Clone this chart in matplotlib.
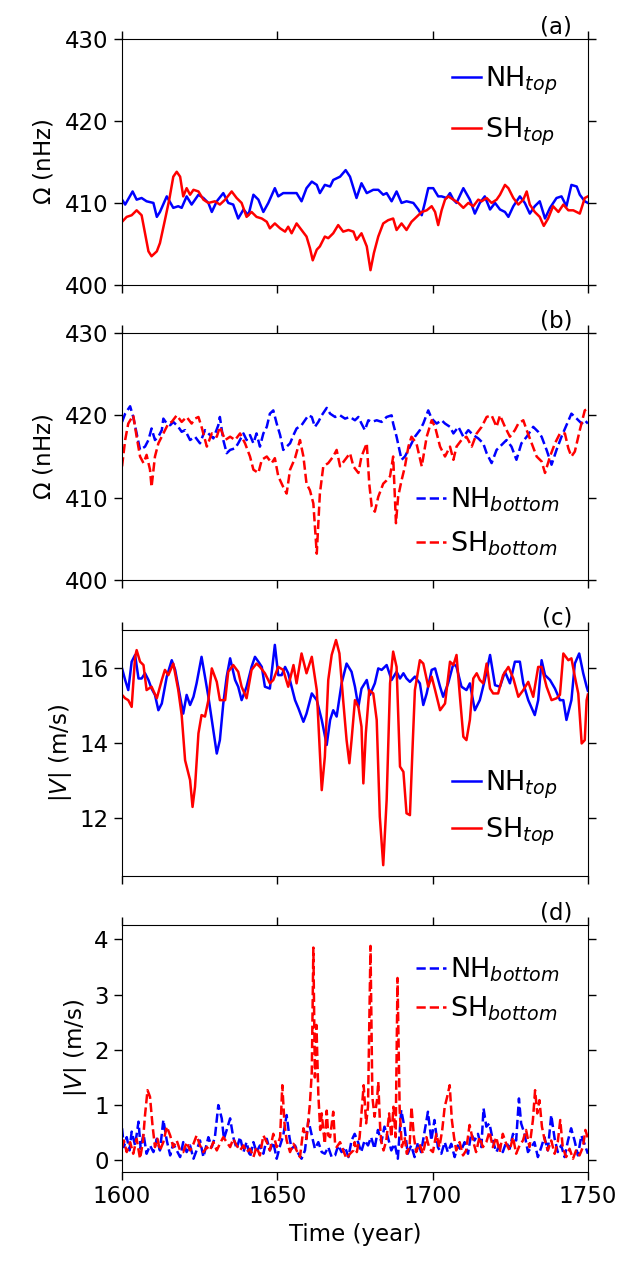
import numpy as np
import matplotlib
matplotlib.use('Agg')
import matplotlib.pyplot as plt

# (a) rotation rate at the top
a_nh_year = [1600.0, 1601.0, 1603.4, 1604.7, 1606.3, 1607.9, 1610.1, 1611.2, 1612.2, 1614.4,
             1616.5, 1618.1, 1619.2, 1620.8, 1622.4, 1624.6, 1626.2, 1627.8, 1628.9, 1630.5,
             1632.6, 1634.2, 1635.8, 1637.4, 1639.1, 1640.7, 1642.3, 1643.9, 1645.5, 1647.1,
             1649.2, 1650.3, 1651.9, 1654.1, 1656.2, 1657.8, 1659.4, 1661.1, 1662.7, 1663.7,
             1665.3, 1667.0, 1668.0, 1670.2, 1672.0, 1673.4, 1675.5, 1677.1, 1678.8, 1680.9,
             1682.5, 1684.1, 1685.2, 1686.8, 1688.4, 1690.0, 1691.6, 1693.8, 1695.4, 1696.5,
             1697.5, 1698.6, 1700.2, 1701.8, 1702.9, 1704.5, 1705.6, 1706.7, 1707.7, 1709.9,
             1712.0, 1713.6, 1715.2, 1716.8, 1718.5, 1720.1, 1721.7, 1723.3, 1724.4, 1726.0,
             1728.1, 1729.7, 1731.3, 1732.9, 1734.5, 1736.2, 1737.8, 1739.9, 1741.5, 1743.1,
             1744.7, 1746.4, 1747.4, 1749.0, 1750.0]
a_nh = [410.4, 409.8, 411.4, 410.4, 410.6, 410.2, 410.0, 408.3, 408.9, 410.8,
        409.4, 409.6, 409.4, 410.8, 409.8, 411.0, 410.6, 410.0, 408.9, 410.2,
        411.2, 410.0, 409.8, 408.1, 409.2, 408.5, 411.0, 410.4, 408.9, 410.0,
        411.8, 410.8, 411.2, 411.2, 411.2, 410.2, 411.8, 412.6, 412.2, 411.2,
        412.2, 412.0, 412.8, 413.2, 414.0, 413.2, 410.6, 412.4, 411.2, 411.6,
        411.6, 411.0, 411.2, 410.2, 411.4, 410.0, 410.2, 410.0, 409.2, 408.5,
        410.0, 411.8, 411.8, 410.8, 410.8, 410.6, 411.2, 410.4, 410.0, 411.8,
        410.4, 408.7, 410.0, 410.8, 409.2, 410.0, 409.2, 408.9, 408.3, 409.6,
        410.8, 410.0, 408.7, 409.6, 410.2, 408.1, 409.4, 410.6, 410.8, 409.6,
        412.2, 412.0, 411.0, 410.2, 410.0]

a_sh_year = [1600.0, 1601.5, 1603.1, 1604.7, 1606.3, 1607.4, 1608.5, 1609.5, 1611.2, 1612.2,
             1613.8, 1615.2, 1616.5, 1617.6, 1618.7, 1619.7, 1620.8, 1621.9, 1623.0, 1624.6,
             1626.2, 1627.8, 1629.9, 1631.5, 1633.2, 1635.3, 1636.9, 1638.5, 1640.1, 1641.7,
             1643.3, 1645.0, 1646.6, 1647.6, 1649.2, 1650.9, 1652.5, 1653.5, 1654.6, 1656.2,
             1657.8, 1659.4, 1660.5, 1661.4, 1662.7, 1663.7, 1665.3, 1666.4, 1668.0, 1669.6,
             1671.2, 1672.9, 1674.5, 1675.5, 1677.1, 1678.8, 1680.0, 1681.1, 1682.5, 1684.1,
             1685.7, 1687.3, 1688.4, 1690.0, 1691.6, 1693.2, 1695.4, 1696.5, 1698.1, 1699.7,
             1700.8, 1701.8, 1702.9, 1704.0, 1705.0, 1706.7, 1708.3, 1709.9, 1711.5, 1713.1,
             1714.7, 1715.8, 1717.4, 1719.0, 1720.6, 1721.7, 1723.3, 1724.4, 1726.0, 1727.6,
             1729.2, 1730.3, 1731.3, 1732.9, 1734.5, 1735.8, 1737.2, 1738.8, 1740.5, 1742.1,
             1743.7, 1745.3, 1747.4, 1749.0, 1750.0]
a_sh = [407.7, 408.3, 408.5, 409.1, 408.5, 406.3, 404.1, 403.5, 404.1, 405.1,
        407.9, 410.4, 413.2, 413.8, 413.2, 410.8, 411.8, 411.0, 411.6, 411.4,
        410.4, 410.0, 410.2, 409.8, 410.4, 411.4, 410.6, 410.0, 408.3, 408.9,
        408.3, 408.1, 407.7, 406.9, 407.5, 406.9, 406.5, 407.1, 406.3, 407.5,
        406.7, 405.9, 404.5, 403.0, 404.3, 404.7, 405.9, 405.7, 406.3, 407.3,
        406.5, 406.7, 406.5, 405.5, 406.3, 404.7, 401.8, 403.9, 405.9, 407.5,
        407.9, 408.1, 406.7, 407.5, 406.7, 407.7, 408.5, 408.9, 409.1, 409.6,
        408.9, 407.3, 409.1, 410.4, 410.8, 410.4, 410.0, 409.4, 410.0, 409.6,
        410.4, 410.2, 410.6, 410.0, 410.4, 411.0, 412.2, 411.8, 410.6, 409.8,
        410.4, 411.4, 409.8, 408.9, 408.3, 407.2, 408.1, 409.6, 408.9, 409.8,
        409.1, 409.1, 408.7, 410.6, 410.8]

# (b) rotation rate at the bottom
b_nh_year = [1600.0, 1601.0, 1602.6, 1603.6, 1604.7, 1605.8, 1607.4, 1608.5, 1609.5, 1610.6,
             1611.7, 1612.8, 1613.3, 1614.4, 1615.5, 1616.5, 1618.1, 1619.2, 1620.3, 1621.9,
             1623.5, 1625.1, 1626.7, 1627.8, 1629.4, 1631.0, 1631.5, 1632.6, 1633.7, 1634.8,
             1636.4, 1637.4, 1639.1, 1640.1, 1641.2, 1642.3, 1643.3, 1644.4, 1645.5, 1646.6,
             1647.6, 1648.7, 1649.8, 1650.9, 1651.9, 1653.0, 1654.1, 1655.2, 1656.2, 1657.8,
             1658.9, 1660.0, 1661.1, 1662.1, 1663.2, 1664.3, 1665.9, 1667.0, 1668.6, 1670.2,
             1671.8, 1673.4, 1675.0, 1676.1, 1677.1, 1678.2, 1679.3, 1680.4, 1682.0, 1683.6,
             1685.2, 1686.8, 1687.3, 1688.4, 1690.0, 1691.1, 1692.7, 1694.3, 1695.9, 1697.0,
             1698.6, 1699.7, 1701.3, 1702.9, 1704.0, 1705.6, 1706.7, 1708.3, 1709.9, 1711.5,
             1713.1, 1714.7, 1716.3, 1717.4, 1719.0, 1720.6, 1722.2, 1723.8, 1725.4, 1727.0,
             1728.6, 1730.3, 1732.4, 1734.0, 1735.1, 1736.7, 1738.3, 1739.9, 1741.5, 1743.1,
             1744.7, 1746.4, 1748.0, 1749.0, 1750.0]
b_nh = [419.2, 420.2, 421.1, 419.8, 417.8, 415.8, 416.2, 417.0, 418.4, 417.0,
        417.4, 418.2, 419.6, 419.0, 418.8, 419.2, 418.6, 418.0, 418.2, 417.0,
        417.4, 416.6, 418.2, 417.8, 417.2, 418.8, 419.8, 417.0, 415.4, 415.8,
        416.0, 416.6, 417.8, 417.0, 417.6, 416.6, 417.8, 416.2, 417.8, 418.6,
        420.2, 420.6, 419.0, 417.6, 415.8, 416.2, 416.6, 417.6, 418.4, 418.8,
        419.4, 420.0, 419.8, 418.6, 419.2, 420.0, 420.9, 420.2, 419.8, 420.0,
        419.6, 419.8, 419.4, 419.8, 419.0, 418.2, 419.4, 419.2, 419.4, 419.2,
        419.8, 420.0, 419.0, 417.4, 414.6, 415.0, 416.2, 417.4, 418.2, 419.0,
        420.6, 419.6, 419.0, 419.4, 419.0, 418.6, 417.8, 418.6, 417.4, 418.2,
        417.6, 417.2, 416.6, 415.4, 414.2, 415.8, 416.4, 417.0, 416.2, 414.6,
        416.6, 417.4, 418.6, 418.0, 417.4, 415.8, 414.0, 415.8, 417.4, 418.8,
        420.2, 419.6, 419.0, 419.4, 419.0]

b_sh_year = [1600.0, 1601.0, 1602.0, 1603.6, 1604.7, 1605.8, 1606.9, 1607.9, 1609.0, 1609.5,
             1610.6, 1611.7, 1613.3, 1614.9, 1616.0, 1617.6, 1619.2, 1620.8, 1622.4, 1623.5,
             1624.6, 1625.6, 1627.3, 1628.9, 1630.5, 1631.5, 1633.2, 1634.8, 1636.4, 1638.0,
             1639.6, 1641.2, 1642.3, 1643.9, 1645.0, 1646.6, 1648.2, 1649.2, 1650.3, 1651.9,
             1653.0, 1654.1, 1655.7, 1657.3, 1658.4, 1659.4, 1660.5, 1661.6, 1662.7, 1663.7,
             1664.8, 1666.4, 1668.0, 1669.1, 1670.2, 1671.8, 1673.4, 1674.5, 1676.1, 1677.1,
             1678.8, 1679.6, 1680.4, 1681.4, 1682.5, 1684.1, 1685.2, 1686.3, 1687.3, 1688.2,
             1688.9, 1690.0, 1691.1, 1692.2, 1693.2, 1694.8, 1696.5, 1698.1, 1699.7, 1700.8,
             1702.4, 1704.0, 1705.6, 1706.7, 1707.7, 1709.3, 1710.9, 1712.6, 1714.2, 1715.8,
             1717.4, 1719.0, 1720.6, 1721.7, 1723.3, 1724.9, 1726.5, 1727.6, 1729.2, 1730.3,
             1731.9, 1733.5, 1735.1, 1736.2, 1737.8, 1739.4, 1741.0, 1742.6, 1743.7, 1744.7,
             1745.8, 1747.4, 1749.0, 1750.0]
b_sh = [413.8, 417.0, 419.0, 420.0, 417.4, 415.0, 414.2, 415.2, 413.4, 411.3,
        415.0, 416.6, 417.8, 419.0, 419.2, 420.0, 419.2, 419.8, 419.0, 419.6,
        419.8, 418.6, 416.2, 417.8, 417.4, 418.6, 417.0, 417.4, 417.0, 417.8,
        416.6, 415.0, 413.4, 413.0, 414.6, 415.0, 414.2, 414.8, 412.6, 411.3,
        410.5, 413.4, 414.8, 417.0, 415.0, 411.7, 410.9, 409.3, 403.2, 410.5,
        413.8, 414.2, 415.0, 415.8, 413.8, 414.6, 415.4, 413.8, 413.0, 415.0,
        416.6, 411.7, 408.9, 408.3, 410.1, 411.7, 412.1, 412.6, 415.0, 406.9,
        410.1, 412.1, 413.8, 416.2, 417.4, 416.6, 413.8, 417.4, 419.4, 418.6,
        416.2, 415.0, 416.2, 414.6, 416.2, 417.0, 417.4, 416.2, 417.8, 418.6,
        419.8, 420.0, 418.6, 420.0, 418.6, 417.4, 418.2, 419.0, 419.4, 418.2,
        416.6, 415.0, 414.4, 413.0, 415.0, 416.6, 417.8, 417.8, 416.0, 415.0,
        415.6, 418.2, 420.6, 420.8]

# (c) speed at the top
c_nh_year = [1600.0, 1601.0, 1602.0, 1603.1, 1604.2, 1605.3, 1606.3, 1607.4, 1608.5, 1609.5,
             1610.6, 1611.7, 1612.8, 1614.4, 1616.0, 1617.1, 1618.1, 1619.7, 1620.8, 1621.9,
             1623.0, 1624.0, 1625.6, 1626.7, 1627.8, 1628.9, 1630.5, 1631.5, 1632.6, 1633.7,
             1634.8, 1636.4, 1637.4, 1638.5, 1640.1, 1641.7, 1642.8, 1643.9, 1645.0, 1646.0,
             1647.6, 1649.2, 1650.3, 1651.4, 1652.5, 1653.5, 1654.6, 1655.7, 1656.8, 1658.4,
             1659.4, 1661.1, 1662.7, 1664.3, 1665.9, 1667.0, 1668.0, 1669.1, 1670.7, 1672.3,
             1673.9, 1675.0, 1676.1, 1677.1, 1678.8, 1679.8, 1681.4, 1682.5, 1683.6, 1685.2,
             1686.8, 1688.4, 1689.5, 1690.6, 1691.6, 1692.7, 1694.3, 1695.9, 1697.0, 1698.1,
             1699.7, 1700.8, 1702.4, 1703.4, 1705.0, 1706.7, 1707.7, 1709.3, 1710.9, 1712.0,
             1713.6, 1715.2, 1716.8, 1718.5, 1720.1, 1721.7, 1723.3, 1724.9, 1726.5, 1728.1,
             1729.2, 1730.8, 1732.9, 1734.0, 1735.1, 1736.2, 1737.8, 1739.4, 1741.0, 1742.1,
             1743.1, 1744.7, 1745.8, 1747.2, 1748.5, 1749.6, 1750.0]
c_nh = [16.00, 15.69, 15.42, 16.18, 16.36, 15.73, 15.73, 15.87, 15.69, 15.46,
        15.29, 14.88, 15.06, 15.78, 16.22, 15.96, 15.51, 14.79, 15.29, 15.02,
        15.24, 15.60, 16.31, 15.78, 15.24, 14.62, 13.72, 14.08, 15.06, 15.78,
        16.27, 15.69, 15.51, 15.15, 15.51, 16.04, 16.31, 16.18, 16.04, 15.51,
        15.46, 16.63, 15.82, 15.82, 16.04, 15.87, 15.51, 15.15, 14.93, 14.57,
        14.79, 15.33, 15.15, 14.62, 13.95, 14.62, 14.88, 14.71, 15.60, 16.13,
        15.91, 15.51, 14.97, 15.46, 15.69, 15.29, 15.60, 16.00, 15.96, 16.09,
        15.69, 15.91, 15.73, 15.87, 15.73, 15.64, 15.78, 15.60, 15.02, 15.33,
        15.96, 16.00, 15.51, 15.24, 15.60, 16.13, 16.04, 15.51, 15.42, 15.60,
        14.88, 15.15, 15.69, 16.36, 15.55, 15.51, 15.91, 15.60, 16.18, 16.18,
        15.60, 15.15, 14.75, 15.15, 16.22, 15.82, 15.69, 15.46, 15.15, 15.15,
        14.62, 15.15, 16.13, 16.40, 15.87, 15.51, 15.40]

c_sh_year = [1600.0, 1601.0, 1602.0, 1603.1, 1604.2, 1604.7, 1605.8, 1606.9, 1607.9, 1609.5,
             1611.2, 1612.8, 1613.8, 1614.9, 1616.5, 1618.1, 1619.2, 1620.3, 1621.9, 1622.7,
             1623.5, 1624.6, 1625.6, 1626.7, 1627.8, 1628.9, 1630.5, 1631.5, 1633.2, 1634.2,
             1635.8, 1637.4, 1638.5, 1640.1, 1641.7, 1643.3, 1644.4, 1646.0, 1647.6, 1648.7,
             1650.3, 1651.9, 1653.5, 1655.2, 1656.2, 1657.8, 1659.4, 1661.1, 1662.7, 1663.5,
             1664.3, 1665.3, 1666.4, 1667.5, 1668.9, 1670.0, 1671.2, 1672.3, 1673.2, 1673.9,
             1675.0, 1676.1, 1677.1, 1677.7, 1678.5, 1679.6, 1680.9, 1682.0, 1683.0, 1684.1,
             1685.2, 1686.3, 1687.3, 1688.4, 1689.5, 1690.6, 1691.6, 1692.7, 1693.6, 1694.3,
             1695.9, 1697.0, 1698.6, 1699.7, 1700.8, 1702.4, 1704.0, 1705.6, 1706.7, 1707.7,
             1708.8, 1709.9, 1710.9, 1712.0, 1713.1, 1714.2, 1715.2, 1716.3, 1717.4, 1718.5,
             1719.5, 1721.1, 1722.7, 1724.4, 1726.0, 1727.6, 1729.2, 1730.8, 1732.4, 1734.0,
             1735.1, 1736.7, 1738.3, 1739.9, 1741.0, 1742.1, 1743.7, 1744.7, 1745.8, 1746.9,
             1748.0, 1749.0, 1749.6, 1750.0]
c_sh = [15.29, 15.20, 15.15, 14.97, 16.31, 16.49, 16.18, 16.09, 15.42, 15.51,
        15.20, 15.69, 15.96, 15.82, 16.13, 15.42, 14.75, 13.54, 13.01, 12.29,
        12.83, 14.26, 14.75, 14.71, 15.15, 16.00, 15.64, 15.15, 15.15, 15.91,
        16.09, 15.91, 15.51, 15.20, 15.96, 16.13, 16.04, 15.87, 15.60, 15.69,
        16.04, 15.96, 15.51, 16.09, 15.60, 16.40, 15.87, 16.31, 15.42, 14.08,
        12.74, 13.63, 15.69, 16.36, 16.76, 16.40, 15.15, 14.08, 13.46, 14.08,
        15.15, 14.97, 14.44, 12.92, 14.26, 15.42, 15.33, 14.62, 12.03, 10.73,
        12.47, 15.60, 16.45, 16.04, 13.37, 13.23, 12.12, 12.07, 13.99, 15.42,
        16.22, 16.13, 15.51, 15.78, 15.42, 14.88, 15.06, 16.18, 16.09, 16.36,
        15.24, 14.17, 14.08, 14.62, 15.73, 15.87, 15.69, 15.60, 16.13, 15.46,
        15.33, 15.33, 15.82, 16.04, 15.73, 15.24, 15.42, 15.64, 15.24, 16.04,
        16.04, 15.51, 15.15, 15.20, 15.29, 16.40, 16.22, 16.27, 15.78, 15.33,
        13.99, 14.08, 15.15, 15.30]

# (d) speed at the bottom
d_nh_year = [1600.0, 1600.6, 1601.5, 1602.4, 1603.1, 1604.2, 1605.3, 1606.0, 1606.9, 1607.9,
             1609.0, 1610.1, 1611.2, 1612.2, 1613.3, 1614.4, 1615.5, 1616.5, 1617.6, 1618.7,
             1619.7, 1620.8, 1621.9, 1623.0, 1624.0, 1625.1, 1626.2, 1627.8, 1628.9, 1629.9,
             1631.0, 1632.1, 1632.8, 1633.7, 1634.8, 1635.8, 1636.9, 1638.0, 1639.1, 1640.1,
             1641.2, 1642.3, 1643.3, 1644.4, 1645.5, 1646.6, 1647.6, 1648.7, 1649.8, 1650.9,
             1651.9, 1653.0, 1653.9, 1654.6, 1655.7, 1656.8, 1657.8, 1658.9, 1660.0, 1661.1,
             1662.1, 1663.2, 1664.3, 1665.3, 1666.4, 1667.5, 1668.6, 1669.6, 1670.7, 1671.8,
             1672.9, 1673.9, 1674.9, 1676.0, 1677.0, 1678.1, 1679.2, 1680.2, 1681.3, 1682.4,
             1683.5, 1684.5, 1685.6, 1686.7, 1687.8, 1688.8, 1689.9, 1691.0, 1692.0, 1693.1,
             1694.2, 1695.3, 1696.3, 1697.4, 1698.5, 1699.6, 1700.6, 1701.7, 1702.8, 1703.9,
             1704.9, 1706.0, 1707.1, 1708.1, 1709.2, 1710.3, 1711.4, 1712.4, 1713.5, 1714.6,
             1715.7, 1716.4, 1717.3, 1718.3, 1719.4, 1720.5, 1721.6, 1722.6, 1723.7, 1724.8,
             1725.9, 1726.9, 1727.8, 1728.5, 1729.6, 1730.7, 1731.8, 1732.8, 1733.9, 1735.0,
             1736.0, 1737.1, 1738.2, 1739.3, 1740.3, 1741.4, 1742.5, 1743.6, 1744.6, 1745.7,
             1746.8, 1747.9, 1748.9, 1750.0]
d_nh = [0.58, 0.24, 0.42, 0.18, 0.52, 0.27, 0.70, 0.21, 0.48, 0.12,
        0.27, 0.15, 0.39, 0.18, 0.73, 0.36, 0.09, 0.30, 0.18, 0.06,
        0.33, 0.15, 0.27, 0.03, 0.18, 0.36, 0.06, 0.42, 0.24, 0.42,
        1.00, 0.76, 0.39, 0.55, 0.76, 0.42, 0.21, 0.42, 0.15, 0.33,
        0.06, 0.33, 0.15, 0.27, 0.12, 0.39, 0.18, 0.33, 0.03, 0.27,
        0.45, 0.82, 0.42, 0.21, 0.27, 0.12, 0.03, 0.18, 0.73, 0.45,
        0.21, 0.33, 0.15, 0.12, 0.24, 0.06, 0.09, 0.27, 0.15, 0.24,
        0.06, 0.36, 0.48, 0.33, 0.15, 0.36, 0.27, 0.42, 0.21, 0.55,
        0.33, 0.61, 0.42, 0.18, 0.30, 0.03, 0.91, 0.58, 0.12, 0.27,
        0.06, 0.33, 0.15, 0.52, 0.88, 0.36, 0.73, 0.24, 0.12, 0.33,
        0.15, 0.30, 0.06, 0.27, 0.18, 0.33, 0.12, 0.48, 0.36, 0.48,
        0.24, 0.94, 0.61, 0.67, 0.36, 0.15, 0.27, 0.15, 0.33, 0.21,
        0.48, 0.36, 1.12, 0.67, 0.48, 0.15, 0.24, 0.33, 0.06, 0.24,
        0.42, 0.18, 0.82, 0.39, 0.15, 0.27, 0.06, 0.36, 0.58, 0.36,
        0.09, 0.45, 0.30, 0.12]

d_sh_year = [1600.0, 1600.6, 1601.5, 1602.6, 1603.6, 1604.7, 1605.8, 1606.7, 1607.4, 1608.2,
             1609.0, 1609.8, 1610.6, 1611.4, 1612.2, 1613.3, 1614.4, 1615.5, 1616.5, 1617.6,
             1618.7, 1619.7, 1620.8, 1621.9, 1623.0, 1624.0, 1625.1, 1626.2, 1627.3, 1628.3,
             1629.4, 1630.5, 1631.5, 1632.6, 1633.7, 1634.8, 1635.8, 1636.9, 1638.0, 1639.1,
             1640.1, 1641.2, 1642.3, 1643.3, 1644.4, 1645.5, 1646.6, 1647.6, 1648.7, 1649.8,
             1650.9, 1651.6, 1652.3, 1653.0, 1654.1, 1655.2, 1656.2, 1657.3, 1658.4, 1659.4,
             1660.5, 1661.1, 1661.6, 1662.1, 1662.6, 1663.2, 1663.8, 1664.3, 1664.8, 1665.3,
             1665.9, 1666.4, 1667.0, 1668.0, 1668.6, 1669.1, 1670.2, 1671.2, 1672.3, 1673.4,
             1674.5, 1674.9, 1675.6, 1676.5, 1677.0, 1677.8, 1678.6, 1679.2, 1680.0, 1680.6,
             1681.3, 1682.1, 1682.5, 1683.1, 1683.5, 1684.2, 1685.1, 1686.0, 1686.7, 1687.4,
             1688.1, 1688.7, 1689.4, 1690.1, 1691.0, 1691.7, 1692.6, 1693.2, 1694.0, 1694.7,
             1695.8, 1696.9, 1698.0, 1699.0, 1700.1, 1701.2, 1702.2, 1703.1, 1703.9, 1704.7,
             1705.5, 1706.2, 1706.9, 1707.6, 1708.7, 1709.8, 1710.8, 1711.9, 1713.0, 1714.0,
             1715.1, 1716.2, 1717.3, 1718.3, 1719.4, 1720.5, 1721.6, 1722.6, 1723.7, 1724.8,
             1725.9, 1726.9, 1728.0, 1729.1, 1730.1, 1731.2, 1732.3, 1733.0, 1733.7, 1734.4,
             1735.2, 1736.0, 1737.1, 1738.2, 1739.3, 1740.3, 1741.1, 1741.9, 1743.0, 1744.1,
             1745.2, 1746.2, 1747.3, 1748.4, 1749.2, 1750.0]
d_sh = [0.24, 0.36, 0.15, 0.33, 0.12, 0.39, 0.03, 0.33, 0.82, 1.27,
        1.15, 0.64, 0.24, 0.39, 0.18, 0.33, 0.61, 0.45, 0.24, 0.36,
        0.18, 0.15, 0.33, 0.18, 0.30, 0.45, 0.27, 0.15, 0.24, 0.18,
        0.33, 0.18, 0.30, 0.42, 0.33, 0.24, 0.39, 0.27, 0.18, 0.27,
        0.15, 0.21, 0.06, 0.24, 0.09, 0.45, 0.33, 0.18, 0.48, 0.24,
        0.42, 1.36, 0.67, 0.36, 0.15, 0.30, 0.18, 0.06, 0.58, 0.39,
        1.03, 1.60, 3.85, 1.50, 2.45, 1.20, 0.55, 0.85, 0.55, 0.30,
        0.90, 0.45, 0.42, 0.88, 0.30, 0.24, 0.33, 0.18, 0.03, 0.12,
        0.18, 0.33, 0.15, 0.42, 0.79, 1.36, 0.67, 0.97, 3.88, 1.15,
        0.79, 1.09, 1.42, 0.61, 0.33, 0.18, 0.36, 0.85, 0.42, 0.97,
        0.42, 3.30, 0.91, 0.24, 0.42, 0.12, 0.27, 0.97, 0.42, 0.15,
        0.30, 0.12, 0.42, 0.21, 0.15, 0.48, 0.24, 0.55, 0.97, 1.15,
        1.36, 0.73, 0.42, 0.18, 0.33, 0.09, 0.18, 0.64, 0.36, 0.15,
        0.42, 0.24, 0.33, 0.52, 0.24, 0.42, 0.15, 0.48, 0.30, 0.18,
        0.42, 0.12, 0.27, 0.36, 0.55, 0.24, 0.73, 1.27, 0.85, 1.09,
        0.61, 0.39, 0.18, 0.36, 0.12, 0.33, 0.73, 0.24, 0.06, 0.21,
        0.03, 0.18, 0.09, 0.24, 0.55, 0.40]

x_ticks = [1600, 1650, 1700, 1750]

plt.rcParams['font.family'] = 'DejaVu Sans'
plt.rcParams['mathtext.fontset'] = 'dejavusans'

fig = plt.figure(figsize=(6.39, 12.67), dpi=100)

left, width = 0.191, 0.729
ax_a = fig.add_axes([left, 0.7751, width, 0.1942])
ax_b = fig.add_axes([left, 0.5422, width, 0.1950])
ax_c = fig.add_axes([left, 0.3086, width, 0.1942])
ax_d = fig.add_axes([left, 0.0750, width, 0.1950])

lw = 1.8
ax_a.plot(a_nh_year, a_nh, c='b', lw=lw, label=r'NH$_{top}$')
ax_a.plot(a_sh_year, a_sh, c='r', lw=lw, label=r'SH$_{top}$')
ax_b.plot(b_nh_year, b_nh, c='b', lw=lw, ls='--', label=r'NH$_{bottom}$')
ax_b.plot(b_sh_year, b_sh, c='r', lw=lw, ls='--', label=r'SH$_{bottom}$')
ax_c.plot(c_nh_year, c_nh, c='b', lw=lw, label=r'NH$_{top}$')
ax_c.plot(c_sh_year, c_sh, c='r', lw=lw, label=r'SH$_{top}$')
ax_d.plot(d_nh_year, d_nh, c='b', lw=lw, ls='--', label=r'NH$_{bottom}$')
ax_d.plot(d_sh_year, d_sh, c='r', lw=lw, ls='--', label=r'SH$_{bottom}$')

fs = 16.5

# y ranges and ticks
for ax in (ax_a, ax_b):
    ax.set_ylim(400, 430)
    ax.set_yticks([400, 410, 420, 430])
    ax.set_ylabel(r'$\Omega$ (nHz)', fontsize=fs, labelpad=7)
ax_c.set_ylim(10.44, 17.03)
ax_c.set_yticks([12, 14, 16])
ax_d.set_ylim(-0.21, 4.26)
ax_d.set_yticks([0, 1, 2, 3, 4])
for ax in (ax_c, ax_d):
    ax.set_ylabel(r'$|V|$ (m/s)', fontsize=fs)

for ax, lab in zip((ax_a, ax_b, ax_c, ax_d), ('(a)', '(b)', '(c)', '(d)')):
    ax.set_xlim(1600, 1750)
    ax.set_xticks(x_ticks)
    ax.tick_params(axis='both', which='major', labelsize=fs, length=6, width=1,
                   top=True, right=True)
    ax.text(0.966, 1.0, lab, transform=ax.transAxes, ha='right', va='bottom', fontsize=16.5)
    if ax is not ax_d:
        ax.set_xticklabels([])

ax_d.set_xlabel('Time (year)', fontsize=fs, labelpad=11)

# Legends, no frame, short handles
leg_kw = dict(frameon=False, fontsize=19.5, handlelength=1.1, handletextpad=0.15,
              borderaxespad=0, borderpad=0, labelspacing=0.55)
ax_b.legend(loc='lower right', bbox_to_anchor=(0.938, 0.09), **leg_kw)
ax_c.legend(loc='lower right', bbox_to_anchor=(0.935, 0.115), **leg_kw)
leg_kw['labelspacing'] = 0.68
ax_a.legend(loc='upper right', bbox_to_anchor=(0.935, 0.895), **leg_kw)
leg_kw['labelspacing'] = 0.38
ax_d.legend(loc='upper right', bbox_to_anchor=(0.938, 0.875), **leg_kw)

fig.savefig('out.png', dpi=100)
